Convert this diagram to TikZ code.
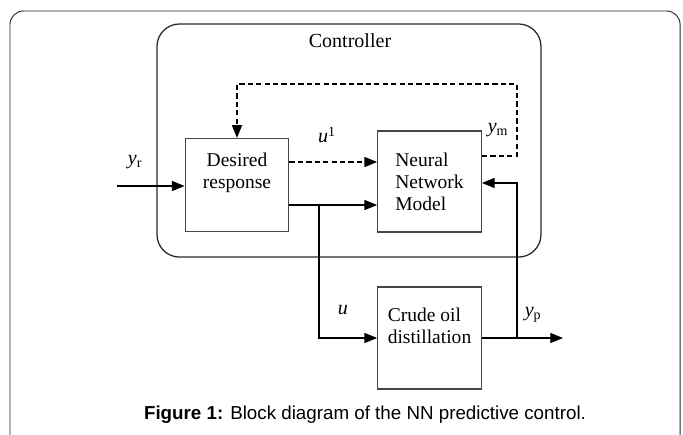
\documentclass[tikz,border=0pt]{standalone}
\usepackage{fontspec}
\setmainfont{Liberation Serif}
\newfontfamily\leyenda{Liberation Sans}
\usepackage{tikz}
\usetikzlibrary{positioning, arrows.meta, calc}
\usepackage{xcolor}
\definecolor{BloqueGris}{RGB}{70,70,70}
\definecolor{MarcoGris}{RGB}{40,40,40}
\tikzset{%
  bloque/.style  ={rectangle, draw=BloqueGris, line width=1.2pt,
                   minimum width=3.45cm, minimum height=3.1cm,
                   font=\fontsize{18.5}{21}\selectfont},
  ctrlbox/.style ={rectangle, draw=MarcoGris, line width=1.2pt,
                   rounded corners=0.75cm, minimum width=12.8cm, minimum height=7.77cm},
  flarr/.style   ={-{Triangle[length=12pt, width=9.5pt]}, line width=1pt, draw=black},
  flpunt/.style  ={flarr, dash pattern=on 5pt off 3pt},
  ln/.style      ={-, line width=1pt, draw=black},
  etiq/.style    ={font=\fontsize{19}{21}\selectfont},
  capt/.style    ={font=\leyenda\fontsize{17.8}{20}\selectfont}
}
\newcommand{\senal}[2]{\textit{#1}\textsubscript{#2}}
\begin{document}
\begin{tikzpicture}
  \clip (0,0) rectangle (22.767,14.467);
  \draw[draw=MarcoGris, line width=0.9pt, rounded corners=0.45cm]
    (0.333,-1) -- (0.333,14.1) -- (22.67,14.1) -- (22.67,-1);
  \node[ctrlbox] (ctrl) at (11.633,9.783) {};
  \node[etiq] (ctrlt) at (11.667,13.1) {Controller};
  \node[bloque, align=center] (dr) at (7.9,8.3) {Desired\\response\\[0.2cm]};
  \node[bloque, align=left, minimum height=3.37cm] (nn) at (14.317,8.417) {Neural\\Network\\Model};
  \node[bloque, align=left, minimum height=3.4cm] (cr) at (14.317,3.2) {Crude oil\\distillation\\[0.1cm]};
  \coordinate (yin) at (3.9,8.267);
  \coordinate (pu1) at (10,9.067);
  \coordinate (ramal) at (10.633,7.633);
  \coordinate (sal) at (17.233,3.2);
  \coordinate (fin) at (18.767,3.2);
  \coordinate (ret) at (17.233,8.367);
  \coordinate (ym) at (17.233,9.267);
  \coordinate (arriba) at (17.233,11.667);
  \draw[flarr] (yin) -- (yin -| dr.west);
  \draw[flpunt] (dr.east |- pu1) -- (nn.west |- pu1);
  \draw[flarr] (dr.east |- ramal) -- (nn.west |- ramal);
  \draw[flarr] (ramal) |- (cr.west);
  \draw[flarr] (cr.east) -- (fin);
  \draw[flarr] (sal) -- (ret) -- (nn.east |- ret);
  \draw[flpunt] (nn.east |- ym) -- (ym) -- (arriba) -| (dr.north);
  \node[etiq] (lyr) at (4.5,9.067) {\senal{y}{r}};
  \node[etiq] (lu1) at (10.9,9.967) {\textit{u}\textsuperscript{1}};
  \node[etiq] (lym) at (16.6,10.133) {\senal{y}{m}};
  \node[etiq] (lu) at (11.433,4.133) {\textit{u}};
  \node[etiq] (lyp) at (17.767,3.967) {\senal{y}{p}};
  \node[capt] (cap) at (12.167,0.633) {\textbf{Figure 1:} Block diagram of the NN predictive control.};
\end{tikzpicture}
\end{document}
